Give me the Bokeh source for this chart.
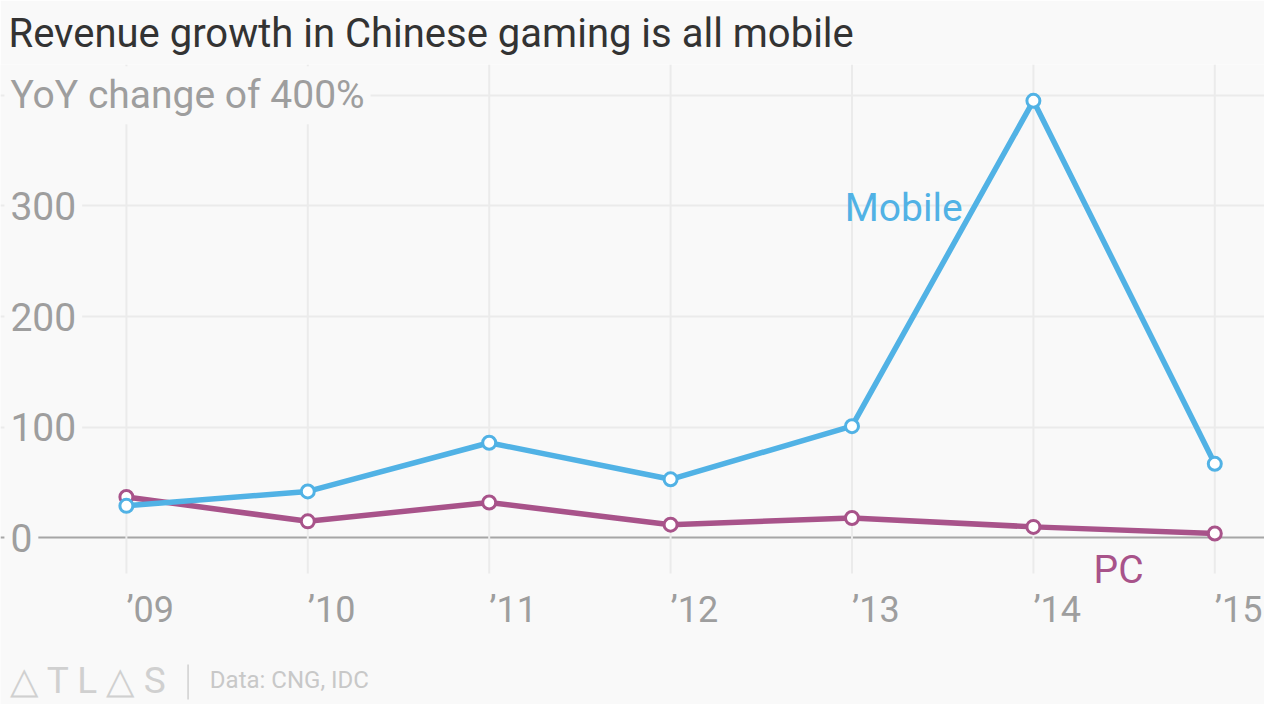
from bokeh.core.properties import value
from bokeh.embed import file_html
from bokeh.models import FixedTicker, Grid, Range1d
from bokeh.plotting import figure
from bokeh.resources import INLINE

years = [2009, 2010, 2011, 2012, 2013, 2014, 2015]
year_labels = ["\u201909", "\u201910", "\u201911", "\u201912", "\u201913", "\u201914", "\u201915"]
mobile = [29, 42, 86, 53, 101, 395, 67]
pc = [37, 15, 32, 12, 18, 10, 4]
y_ticks = [0, 100, 200, 300, 400]
y_labels = ["0", "100", "200", "300", "YoY change of 400%"]

BG = "#f9f9f9"
BLUE = "#51b2e5"
PURPLE = "#a8538a"
GREY = "#9e9e9e"
FOOT = "#d0d0d0"

p = figure(width=1264, height=704, output_backend="svg", toolbar_location=None,
           x_range=Range1d(2008.306, 2015.274), y_range=Range1d(-150.5, 427.8),
           min_border_left=0, min_border_right=0, min_border_top=64, min_border_bottom=0,
           background_fill_color=BG, border_fill_color=BG, outline_line_color=None)

p.title.text = "Revenue growth in Chinese gaming is all mobile"
p.title.text_font = "Roboto"
p.title.text_font_size = "40px"
p.title.text_font_style = "normal"
p.title.text_color = "#333333"
p.title.align = "left"
p.title.offset = 8
p.title.standoff = 15

p.xaxis.visible = False
p.yaxis.visible = False
p.xgrid.visible = False
p.ygrid.ticker = FixedTicker(ticks=y_ticks[1:])
p.ygrid.grid_line_color = "#ebebeb"
p.ygrid.grid_line_width = 2
p.add_layout(Grid(dimension=1, ticker=FixedTicker(ticks=y_ticks[:1]),
                  grid_line_color="#a6a6a6", grid_line_width=2))

# vertical grid stops just under the x labels
p.segment(x0=years, y0=[-32.2] * len(years), x1=years, y1=[427.8] * len(years),
          line_color="#ebebeb", line_width=2)

# y labels sit inside the plot, masking the grid behind them
p.text(x=[2008.3275] * len(y_ticks), y=y_ticks, text=y_labels,
       text_font=value("Roboto"), text_font_size="39px", text_color=GREY,
       text_align="left", text_baseline="middle",
       background_fill_color=BG, padding=6)

# x labels start at their gridline
p.text(x=years, y=[-64.8] * len(years), text=year_labels,
       text_font=value("Roboto"), text_font_size="36px", text_color=GREY,
       text_align="left", text_baseline="middle")

p.line(years, pc, line_width=5.5, color=PURPLE)
p.scatter(years, pc, size=13, fill_color="white", line_color=PURPLE, line_width=3)
p.line(years, mobile, line_width=5.5, color=BLUE)
p.scatter(years, mobile, size=13, fill_color="white", line_color=BLUE, line_width=3)

p.text(x=[2012.960], y=[298], text=["Mobile"], text_font=value("Roboto"),
       text_font_size="39px", text_color=BLUE, text_baseline="middle")
p.text(x=[2014.332], y=[-28.7], text=["PC"], text_font=value("Roboto"),
       text_font_size="39px", text_color=PURPLE, text_baseline="middle")

# footer
p.text(x=[2008.3605], y=[-128.5], text=["\u25b3 T L \u25b3 S"], text_font=value("Roboto"),
       text_font_size="37px", text_color=FOOT, text_baseline="middle")
p.segment(x0=[2009.340], y0=[-114.4], x1=[2009.340], y1=[-146.0],
          line_color=FOOT, line_width=1.5)
p.text(x=[2009.460], y=[-128.5], text=["Data: CNG, IDC"], text_font=value("Roboto"),
       text_font_size="24px", text_color="#c8c8c8", text_baseline="middle")

open("out.html", "w").write(file_html(p, INLINE))
